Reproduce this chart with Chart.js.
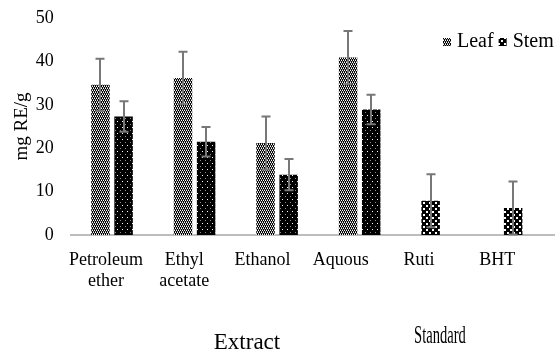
<!DOCTYPE html>
<html><head><meta charset="utf-8">
<script src="https://cdn.jsdelivr.net/npm/chart.js@4.4.1/dist/chart.umd.min.js"></script>
<style>
html,body{margin:0;padding:0;overflow:hidden;background:#fff;}
#wrap{position:relative;width:566px;height:351px;}
</style></head><body>
<div id="wrap"><canvas id="c"></canvas></div>
<script>
const categories = [['Petroleum','ether'], ['Ethyl','acetate'], 'Ethanol', 'Aquous', 'Ruti', 'BHT'];
const seriesNames = ['Leaf', 'Stem'];
const leafValues = [34.6, 36.2, 21.2, 40.9, 7.9, 6.2];
const leafErrors = [6.0, 6.0, 6.1, 6.1, 6.1, 6.1];
const stemValues = [27.3, 21.5, 13.9, 28.9, null, null];
const stemErrors = [3.5, 3.4, 3.6, 3.4, null, null];
const yTicks = [0, 10, 20, 30, 40, 50];
const groupLabels = ['Extract', 'Standard'];

const FONT = '"Liberation Serif", "Times New Roman", serif';

function makePattern(w, h, bg, cells) {
  const c = document.createElement('canvas');
  c.width = w; c.height = h;
  const x = c.getContext('2d');
  x.fillStyle = bg; x.fillRect(0, 0, w, h);
  cells.forEach(([px, py, col, cw, ch]) => { x.fillStyle = col; x.fillRect(px, py, cw || 1, ch || 1); });
  return x.createPattern(c, 'repeat');
}
const leafPat = makePattern(4, 4, '#000000', [
  [1,0,'#ffffff'],[3,0,'#ffffff'],
  [0,1,'#8a8a8a'],[2,1,'#8a8a8a'],
  [0,2,'#ffffff'],[2,2,'#ffffff'],
  [1,3,'#9a9a9a'],[3,3,'#9a9a9a']
]);
const stemPat = makePattern(5, 6, '#000000', [
  [2,1,'#ffffff'],[0,4,'#8c8c8c']
]);
const stdPat = makePattern(6, 6, '#000000', [
  [0,1,'#ffffff',2,2],[3,4,'#ffffff',2,2]
]);

const errorBars = {
  id: 'errorBars',
  afterDatasetsDraw(chart) {
    const ctx = chart.ctx, y = chart.scales.y;
    const errs = [leafErrors, stemErrors];
    ctx.save();
    ctx.strokeStyle = '#777777';
    ctx.lineWidth = 2;
    chart.data.datasets.forEach((ds, di) => {
      const meta = chart.getDatasetMeta(di);
      meta.data.forEach((bar, i) => {
        const v = ds.data[i], e = errs[di][i];
        if (v == null || e == null) return;
        const x = Math.round(bar.x);
        const yt = y.getPixelForValue(v + e), yb = y.getPixelForValue(v - e);
        ctx.beginPath();
        ctx.moveTo(x, yt); ctx.lineTo(x, yb);
        ctx.moveTo(x - 4.5, yt); ctx.lineTo(x + 4.5, yt);
        ctx.moveTo(x - 4.5, yb); ctx.lineTo(x + 4.5, yb);
        ctx.stroke();
      });
    });
    ctx.restore();
  }
};

const cornerLegend = {
  id: 'cornerLegend',
  afterDraw(chart) {
    const ctx = chart.ctx;
    ctx.save();
    ctx.font = '20px ' + FONT;
    ctx.textBaseline = 'middle';
    ctx.textAlign = 'left';
    let x = 443; const yc = 42;
    chart.data.datasets.forEach(ds => {
      ctx.fillStyle = ds.legendFill;
      ctx.fillRect(x, yc - 4, 8, 8);
      x += 14;
      ctx.fillStyle = '#000';
      ctx.fillText(ds.label, x, yc);
      x += ctx.measureText(ds.label).width + 5;
    });
    ctx.restore();
  }
};

const groupTitles = {
  id: 'groupTitles',
  afterDraw(chart) {
    const ctx = chart.ctx;
    ctx.save();
    ctx.fillStyle = '#000';
    ctx.textAlign = 'center';
    ctx.textBaseline = 'middle';
    ctx.font = '23px ' + FONT;
    ctx.fillText(groupLabels[0], 247, 343);
    ctx.translate(440, 336);
    ctx.scale(0.56, 1);
    ctx.font = '26px ' + FONT;
    ctx.fillText(groupLabels[1], 0, 0);
    ctx.restore();
  }
};

new Chart(document.getElementById('c'), {
  type: 'bar',
  data: {
    labels: categories,
    datasets: [
      { label: seriesNames[0], data: leafValues,
        backgroundColor: [leafPat, leafPat, leafPat, leafPat, stdPat, stdPat],
        legendFill: leafPat, borderWidth: 0 },
      { label: seriesNames[1], data: stemValues,
        backgroundColor: stemPat, legendFill: stdPat, borderWidth: 0 }
    ]
  },
  options: {
    responsive: true,
    maintainAspectRatio: false,
    animation: false,
    devicePixelRatio: 1,
    barPercentage: 0.8,
    categoryPercentage: 0.56,
    layout: { padding: { top: 18, left: 0, right: 0, bottom: 54 } },
    plugins: { legend: { display: false }, tooltip: { enabled: false } },
    scales: {
      x: {
        type: 'category',
        offset: true,
        grid: { display: false, drawTicks: false },
        border: { display: true, color: '#bdbdbd', width: 2 },
        ticks: { display: false },
        afterFit(s) { s.height = 2; }
      },
      x2: {
        type: 'linear',
        position: 'bottom',
        offset: false,
        bounds: 'data',
        min: -0.451,
        max: 5.879,
        grid: { display: false, drawTicks: false, offset: false },
        border: { display: false },
        afterBuildTicks(s) { s.ticks = categories.map((c, i) => ({ value: i })); },
        ticks: {
          autoSkip: false, maxRotation: 0, minRotation: 0,
          padding: 12,
          color: '#000',
          font: { family: FONT, size: 18, lineHeight: 1.2 },
          callback: (v) => categories[v]
        },
        afterFit(s) { s.height = 60; s.paddingLeft = 0; s.paddingRight = 0; }
      },
      y: {
        min: 0, max: 50,
        afterBuildTicks(s) { s.ticks = yTicks.map(v => ({ value: v })); },
        grid: { display: false, drawTicks: false },
        border: { display: false },
        ticks: { padding: 17, color: '#000', font: { family: FONT, size: 18 } },
        title: { display: true, text: 'mg RE/g', color: '#000',
                 font: { family: FONT, size: 19 }, padding: { top: 11, bottom: 0 } },
        afterFit(s) { s.width = 70.75; s.paddingTop = 0; s.paddingBottom = 0; }
      }
    }
  },
  plugins: [errorBars, cornerLegend, groupTitles]
});
</script>
</body></html>
